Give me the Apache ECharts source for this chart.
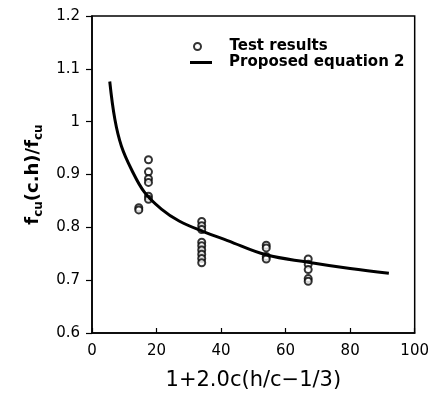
<!DOCTYPE html>
<html><head><meta charset="utf-8">
<script src="https://cdn.jsdelivr.net/npm/echarts@6/dist/echarts.min.js"></script>
<style>html,body{margin:0;padding:0;background:#fff}#c{width:432px;height:396px}</style>
</head><body><div id="c"></div>
<script>
var xTicks = [0, 20, 40, 60, 80, 100];
var yTicks = [0.6, 0.7, 0.8, 0.9, 1.0, 1.1, 1.2];
var testX = [14.5, 14.5, 17.5, 17.5, 17.5, 17.5, 17.5, 17.5, 34, 34, 34, 34, 34, 34, 34, 34, 34, 54, 54, 54, 54, 67, 67, 67, 67, 67];
var testY = [0.837, 0.833, 0.928, 0.905, 0.892, 0.885, 0.859, 0.853, 0.811, 0.803, 0.796, 0.772, 0.765, 0.757, 0.749, 0.741, 0.733, 0.766, 0.761, 0.745, 0.740, 0.740, 0.730, 0.720, 0.703, 0.698];
var eqX = [5.5, 7.1, 9.1, 12.2, 16.3, 21.4, 27, 34.5, 42, 54, 67, 80, 92];
var eqY = [1.076, 1.004, 0.954, 0.910, 0.866, 0.835, 0.812, 0.792, 0.775, 0.748, 0.734, 0.722, 0.713];

var FONT = 'DejaVu Sans';
var chart = echarts.init(document.getElementById('c'), null, {renderer: 'canvas'});
function legText(pad) { return {fontFamily: FONT, fontSize: 15, fontWeight: 'bold', color: '#000', padding: [0, 0, 0, pad]}; }
chart.setOption({
  animation: false,
  backgroundColor: '#fff',
  textStyle: {fontFamily: FONT, color: '#000'},
  grid: {left: 92, top: 16, right: 17, bottom: 61, show: true, borderColor: '#000', borderWidth: 1.5, backgroundColor: 'transparent'},
  legend: [
    {
      left: 188, top: 34, itemWidth: 22, itemHeight: 7, textStyle: legText(16),
      data: [{name: 'Test results', icon: 'emptyCircle', itemStyle: {color: '#000', borderColor: '#000', borderWidth: 1.2}}]
    },
    {
      left: 185, top: 50, itemWidth: 22, itemHeight: 3, textStyle: legText(12),
      data: [{name: 'Proposed equation 2', icon: 'rect', itemStyle: {color: '#000', borderWidth: 0}}]
    }
  ],
  xAxis: {
    type: 'value', min: xTicks[0], max: xTicks[xTicks.length - 1], interval: 20,
    name: '1+2.0c(h/c\u22121/3)', nameLocation: 'middle', nameGap: 37,
    nameTextStyle: {fontFamily: FONT, fontSize: 21, color: '#000'},
    axisLine: {lineStyle: {color: '#000', width: 1.5}},
    axisTick: {inside: true, length: 5, lineStyle: {color: '#000', width: 1.2}},
    axisLabel: {fontFamily: FONT, fontSize: 15, color: '#000', margin: 11},
    splitLine: {show: false}
  },
  yAxis: {
    type: 'value', min: yTicks[0], max: yTicks[yTicks.length - 1], interval: 0.1,
    name: '{b|f}{s|cu}{b|(c.h)/f}{s|cu}', nameLocation: 'middle', nameGap: 44, nameRotate: 90,
    nameTextStyle: {
      rich: {
        b: {fontFamily: FONT, fontSize: 18, fontWeight: 'bold', color: '#000', lineHeight: 24, verticalAlign: 'middle'},
        s: {fontFamily: FONT, fontSize: 12, fontWeight: 'bold', color: '#000', lineHeight: 24, verticalAlign: 'bottom'}
      }
    },
    axisLine: {lineStyle: {color: '#000', width: 1.5}},
    axisTick: {inside: false, length: 6, lineStyle: {color: '#000', width: 1.2}},
    axisLabel: {fontFamily: FONT, fontSize: 15, color: '#000', margin: 12},
    splitLine: {show: false}
  },
  series: [
    {
      name: 'Test results', type: 'scatter', symbol: 'emptyCircle', symbolSize: 7,
      itemStyle: {color: '#000', borderColor: '#000', borderWidth: 1.2},
      data: testX.map(function (x, i) { return [x, testY[i]]; }), z: 2
    },
    {
      name: 'Proposed equation 2', type: 'line', smooth: 0.4, symbol: 'none', showSymbol: false,
      lineStyle: {color: '#000', width: 3},
      itemStyle: {color: '#000'},
      data: eqX.map(function (x, i) { return [x, eqY[i]]; }), z: 3
    }
  ]
});
</script></body></html>
